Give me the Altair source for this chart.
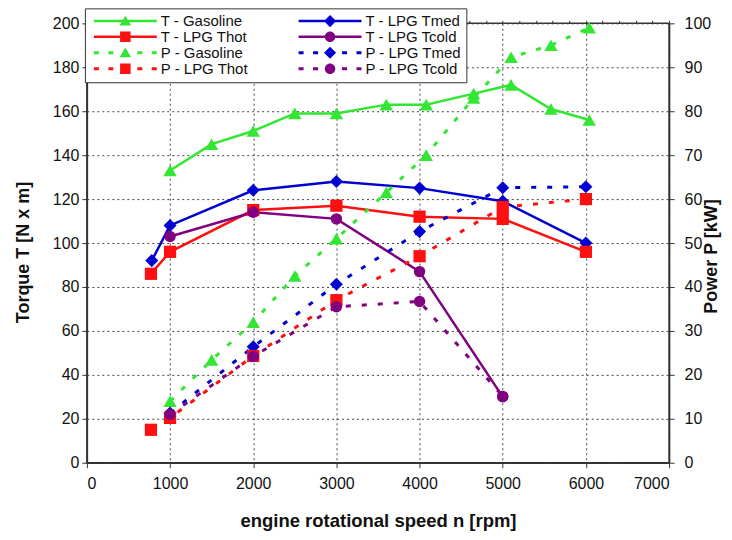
import altair as alt
import pandas as pd

# ---------------- data ----------------
SERIES = ["T - Gasoline", "T - LPG Tmed", "T - LPG Thot", "T - LPG Tcold",
          "P - Gasoline", "P - LPG Tmed", "P - LPG Thot", "P - LPG Tcold"]

RPM_GAS = [1000, 1500, 2000, 2500, 3000, 3600, 4080, 4650, 5100, 5580, 6040]
T_GAS = [133, 145, 151, 159, 159, 163, 163, 168, 172, 161, 156]
P_GAS = [14, 23.4, 32, 42.5, 51, 61.5, 70, 83, 92.3, 95, 99]

RPM_THOT = [770, 1000, 2000, 3000, 4000, 5000, 6000]
T_THOT = [86, 96, 115, 117, 112, 111, 96]
P_THOT = [7.5, 10.2, 24.3, 37, 47, 58.2, 60]

RPM_TMED_T = [780, 1000, 2000, 3000, 4000, 5000, 6000]
T_TMED = [92, 108, 124, 128, 125, 119, 100]
RPM_TMED_P = [1000, 2000, 3000, 4000, 5000, 6000]
P_TMED = [11.3, 26.4, 40.6, 52.6, 62.6, 62.8]

RPM_TCOLD = [1000, 2000, 3000, 4000, 5000]
T_TCOLD = [103, 114, 111, 87, 30]
P_TCOLD = [11, 24.2, 35.5, 36.7, 15.1]

X_TICKS = list(range(0, 7001, 1000))
X_MINOR = list(range(0, 7001, 200))
T_TICKS = list(range(0, 201, 20))
P_TICKS = list(range(0, 101, 10))

# ---------------- styles ----------------
FONT = "Liberation Sans"
COLORS = ["#33e633", "#0000d0", "#ff1010", "#800080",
          "#33e633", "#0000d0", "#ff1010", "#800080"]
COLOR_OF = dict(zip(SERIES, COLORS))
FUELS = ["Gasoline", "LPG Tmed", "LPG Thot", "LPG Tcold"]
SHAPES = {"Gasoline": "triangle-up", "LPG Tmed": "diamond",
          "LPG Thot": "square", "LPG Tcold": "circle"}
SIZES = {"Gasoline": 180, "LPG Tmed": 170, "LPG Thot": 150, "LPG Tcold": 130}

rows = []
def add(kind, fuel, xs, ys):
    for x, y in zip(xs, ys):
        rows.append({"rpm": x, "value": y, "kind": kind, "fuel": fuel,
                     "series": f"{kind} - {fuel}"})

add("T", "Gasoline", RPM_GAS, T_GAS)
add("T", "LPG Tmed", RPM_TMED_T, T_TMED)
add("T", "LPG Thot", RPM_THOT, T_THOT)
add("T", "LPG Tcold", RPM_TCOLD, T_TCOLD)
add("P", "Gasoline", RPM_GAS, P_GAS)
add("P", "LPG Tmed", RPM_TMED_P, P_TMED)
add("P", "LPG Thot", RPM_THOT, P_THOT)
add("P", "LPG Tcold", RPM_TCOLD, P_TCOLD)
df = pd.DataFrame(rows)

LEG_FONT = 15


# legend symbols: line (solid or dashed) with a marker, as SVG paths
def px(v):
    return (v - LEG_FONT / 2.0) / 5.0


def marker_path(shape):
    c = px(35.5)
    r = 1.05
    if shape == "triangle-up":
        return f"M{c:.2f},{-r:.2f}L{c + r * 1.1:.2f},{r * 0.85:.2f}L{c - r * 1.1:.2f},{r * 0.85:.2f}Z"
    if shape == "square":
        return f"M{c - r:.2f},{-r:.2f}H{c + r:.2f}V{r:.2f}H{c - r:.2f}Z"
    if shape == "diamond":
        return f"M{c:.2f},{-r * 1.15:.2f}L{c + r * 1.15:.2f},0L{c:.2f},{r * 1.15:.2f}L{c - r * 1.15:.2f},0Z"
    return (f"M{c - r:.2f},0A{r:.2f},{r:.2f} 0 1,1 {c + r:.2f},0"
            f"A{r:.2f},{r:.2f} 0 1,1 {c - r:.2f},0Z")


def line_path(dashed):
    if not dashed:
        a, b = px(4), px(67)
        return f"M{a:.2f},-0.25H{b:.2f}V0.25H{a:.2f}Z"
    out = ""
    for s in [4, 18.5, 47.5, 62]:
        a, b = px(s), px(s + 5)
        out += f"M{a:.2f},-0.3H{b:.2f}V0.3H{a:.2f}Z"
    return out


PATHS = []
for s in SERIES:
    kind, fuel = s.split(" - ")
    PATHS.append(line_path(kind == "P") + marker_path(SHAPES[fuel]))

# ---------------- chart ----------------
x_scale = alt.Scale(domain=[0, 7000], nice=False, zero=False)
t_scale = alt.Scale(domain=[0, 200], nice=False)
p_scale = alt.Scale(domain=[0, 100], nice=False)

major_x = alt.Axis(values=X_TICKS, format="d", grid=True, tickSize=5,
                   labelPadding=8, title="engine rotational speed n [rpm]",
                   titleY=58, titleBaseline="middle", titleFontSize=18.5)
minor_x = alt.Axis(values=X_MINOR, grid=False, labels=False, domain=False,
                   ticks=True, tickSize=3, title=None)
t_axis = alt.Axis(values=T_TICKS, grid=True, tickSize=5, labelPadding=3,
                  title="Torque T [N x m]", titleAngle=270, titleX=-63,
                  titleY=229, titleAlign="center", titleBaseline="middle")
p_axis = alt.Axis(orient="right", values=P_TICKS, grid=False, tickSize=5,
                  labelPadding=10, labelAlign="left", title="Power P [kW]",
                  titleAngle=270, titleX=42, titleY=233, titleAlign="center",
                  titleBaseline="middle")

LEG = alt.Legend(title=None, orient="none", legendX=-2, legendY=-15,
                 direction="horizontal", columns=2, symbolSize=100,
                 symbolOffset=0, labelOffset=56, labelFont=FONT,
                 labelFontSize=LEG_FONT, labelColor="#111", columnPadding=46,
                 rowPadding=-2, padding=5, fillColor="white",
                 strokeColor="#333", symbolOpacity=1, symbolStrokeWidth=0,
                 labelLimit=300)


def group(kind, yscale, yaxis, xaxis, with_legend):
    x = alt.X("rpm:Q", scale=x_scale, axis=xaxis)
    y = alt.Y("value:Q", scale=yscale, axis=yaxis)
    layers = []
    for f in FUELS:
        s = f"{kind} - {f}"
        d = df[df["series"] == s]
        base = alt.Chart(d)
        if kind == "T":
            line = base.mark_line(strokeWidth=2.5, color=COLOR_OF[s])
        else:
            line = base.mark_line(strokeWidth=3, strokeDash=[5, 11],
                                  color=COLOR_OF[s])
        layers.append(line.encode(x=x, y=y))
    for f in FUELS:
        s = f"{kind} - {f}"
        d = df[df["series"] == s]
        layers.append(
            alt.Chart(d).mark_point(filled=True, shape=SHAPES[f], size=SIZES[f],
                                    opacity=1, color=COLOR_OF[s])
            .encode(x=x, y=y)
        )
    if with_legend:
        layers.append(
            alt.Chart(df).mark_point(filled=True, opacity=0).encode(
                x=x, y=y,
                color=alt.Color("series:N",
                                scale=alt.Scale(domain=SERIES, range=COLORS),
                                legend=LEG),
                shape=alt.Shape("series:N",
                                scale=alt.Scale(domain=SERIES, range=PATHS),
                                legend=LEG),
            )
        )
    return alt.layer(*layers)


torque = group("T", t_scale, t_axis, major_x, True)
power = group("P", p_scale, p_axis, minor_x, False)

chart = (
    alt.layer(torque, power)
    .resolve_scale(y="independent")
    .resolve_axis(x="independent", y="independent")
    .properties(width=583, height=440,
                padding={"left": 79, "top": 15, "right": 55, "bottom": 72},
                autosize=alt.AutoSizeParams(type="none"))
    .configure_axis(labelFont=FONT, titleFont=FONT, labelFontSize=16,
                    titleFontSize=18, titleFontWeight="bold",
                    labelColor="#111", titleColor="#111", domainColor="#333",
                    tickColor="#333", gridColor="#444", gridDash=[2, 3],
                    gridWidth=1, domainWidth=1.5, gridOpacity=1)
    .configure_view(stroke="#333", strokeWidth=1.5)
)

chart.save("out.html", embed_options={"renderer": "svg", "actions": False})
